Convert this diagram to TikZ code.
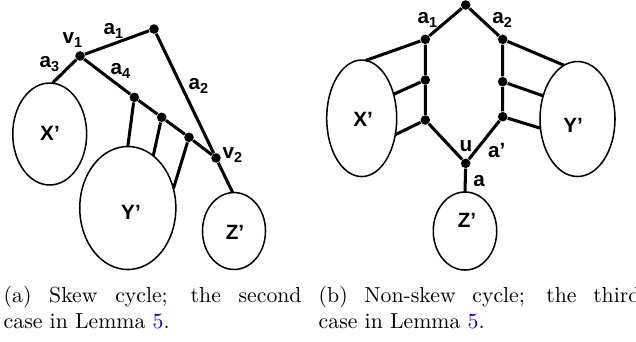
\documentclass[tikz,border=0pt]{standalone}
\usepackage{fontspec}
\newfontfamily\lblfont{Liberation Sans}
\usetikzlibrary{shapes.geometric}

\begin{document}
\begin{tikzpicture}[
  x=0.46pt, y=-0.46pt,
  dot/.style={circle, fill=black, inner sep=0pt, minimum size=4.4pt},
  blob/.style={draw, ellipse, line width=0.7pt, inner sep=0pt, outer sep=0pt},
  ln/.style={line width=1.4pt},
  lbl/.style={font=\lblfont\bfseries\fontsize{9.5}{11}\selectfont, inner sep=0pt},
  captxt/.style={anchor=base west, align=justify, inner sep=0pt, font=\fontsize{10}{12}\selectfont}
]
\useasboundingbox (0,0) rectangle (636,341);

\node[dot] (ta) at (154,29) {};
\node[dot] (v1) at (80,56) {};
\node[dot] (p1) at (134.3,97.3) {};
\node[dot] (p2) at (161.7,117.3) {};
\node[dot] (p3) at (189,137.3) {};
\node[dot] (v2) at (216,158) {};
\node[blob, minimum width=34pt, minimum height=46.9pt] (xa) at (49.7,134) {};
\node[blob, minimum width=44.2pt, minimum height=56.6pt] (ya) at (127.8,208) {};
\node[blob, minimum width=29pt, minimum height=35.4pt] (za) at (234,231) {};

\draw[ln] (ta) -- (v1);
\draw[ln] (ta) -- (v2);
\draw[ln] (v1) -- (xa.87);
\draw[ln] (v1) -- (p1) -- (p2) -- (p3) -- (v2);
\draw[ln] (v2) -- (za.92);
\draw[ln] (p1) -- (ya.90);
\draw[ln] (p2) -- (ya.64.8);
\draw[ln] (p3) -- (ya.23.4);

\node[lbl] (la1) at (114,31) {a\textsubscript{1}};
\node[lbl] (lv1) at (73,40) {v\textsubscript{1}};
\node[lbl] (la3) at (50,64) {a\textsubscript{3}};
\node[lbl] (la4) at (121,71) {a\textsubscript{4}};
\node[lbl] (la2) at (199,86) {a\textsubscript{2}};
\node[lbl] (lv2) at (233,155) {v\textsubscript{2}};
\node[lbl] (lxa) at (50,133) {X’};
\node[lbl] (lya) at (131,212) {Y’};
\node[lbl] (lza) at (235,232) {Z’};

\node[dot] (tb) at (465.7,5) {};
\node[dot] (q1) at (425.3,39.3) {};
\node[dot] (q2) at (425.3,80) {};
\node[dot] (q3) at (425.3,120) {};
\node[dot] (r1) at (502.7,39.3) {};
\node[dot] (r2) at (502.7,81.7) {};
\node[dot] (r3) at (502.7,116.7) {};
\node[dot] (u) at (465.7,163.3) {};
\node[blob, minimum width=32.2pt, minimum height=53.6pt] (xb) at (361.7,118.3) {};
\node[blob, minimum width=34.5pt, minimum height=52.9pt] (yb) at (577.5,119) {};
\node[blob, minimum width=29.2pt, minimum height=35.9pt] (zb) at (465,231) {};

\draw[ln] (tb) -- (q1) -- (q2) -- (q3) -- (u);
\draw[ln] (tb) -- (r1) -- (r2) -- (r3) -- (u);
\draw[ln] (u) -- (zb.north);
\draw[ln] (q1) -- (xb.86.8);
\draw[ln] (q2) -- (xb.37.2);
\draw[ln] (q3) -- (xb.-26.6);
\draw[ln] (r1) -- (yb.104.3);
\draw[ln] (r2) -- (yb.146.5);
\draw[ln] (r3) -- (yb.194.6);

\node[lbl] (lb1) at (428,20) {a\textsubscript{1}};
\node[lbl] (lb2) at (502.7,20) {a\textsubscript{2}};
\node[lbl] (lu) at (466,146) {u};
\node[lbl] (lap) at (496.7,150) {a’};
\node[lbl] (la) at (479,181) {a};
\node[lbl] (lxb) at (363,119.5) {X’};
\node[lbl] (lyb) at (573,125) {Y’};
\node[lbl] (lzb) at (467,220) {Z’};

\node[captxt, text width=137pt] (capa) at (3.3,302.7) {(a) Skew cycle; the second\linebreak case in Lemma \textcolor{blue}{5}.};
\node[captxt, text width=148pt] (capb) at (318.3,302.7) {(b) Non-skew cycle; the third\linebreak case in Lemma \textcolor{blue}{5}.};
\end{tikzpicture}
\end{document}
